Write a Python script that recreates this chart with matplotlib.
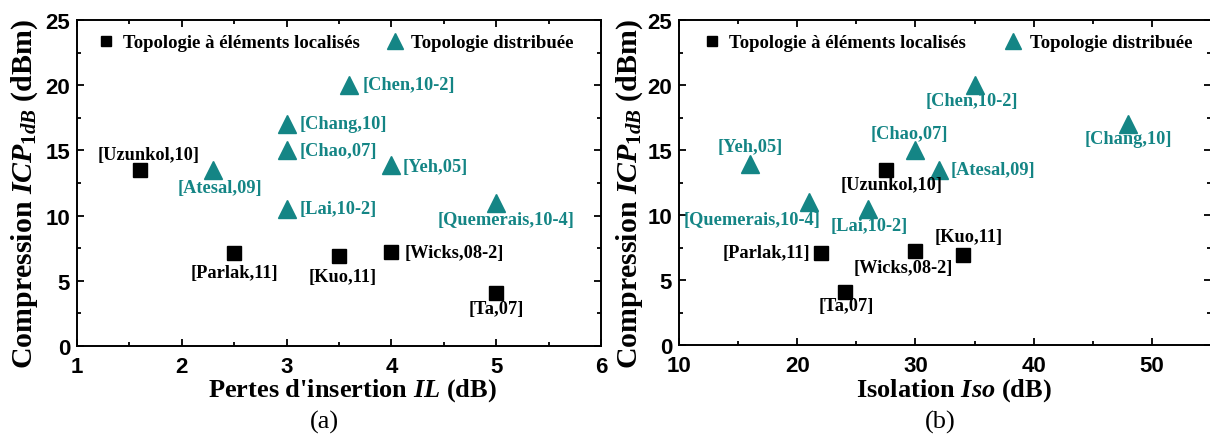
import matplotlib
matplotlib.use("Agg")
import matplotlib.pyplot as plt
from matplotlib.ticker import MultipleLocator
from matplotlib.lines import Line2D

# ---------------- data ----------------
lump_names = ["[Uzunkol,10]", "[Parlak,11]", "[Kuo,11]", "[Wicks,08-2]", "[Ta,07]"]
lump_il = [1.6, 2.5, 3.5, 4.0, 5.0]
lump_icp = [13.5, 7.1, 6.9, 7.2, 4.1]
lump_iso = [27.5, 22.0, 34.0, 30.0, 24.0]

dist_names = ["[Chen,10-2]", "[Chang,10]", "[Chao,07]", "[Yeh,05]", "[Atesal,09]",
              "[Lai,10-2]", "[Quemerais,10-4]"]
dist_il = [3.6, 3.0, 3.0, 4.0, 2.3, 3.0, 5.0]
dist_icp = [20.0, 17.0, 15.0, 13.9, 13.5, 10.5, 11.0]
dist_iso = [35.0, 48.0, 30.0, 16.0, 32.0, 26.0, 21.0]

legend_labels = ["Topologie à éléments localisés", "Topologie distribuée"]

# ---------------- label layout (offsets in px, ha) ----------------
lump_off_a = [(9, 15, "center"), (0, -19, "center"), (4, -20, "center"),
              (12.8, 0, "left"), (0, -16, "center")]
dist_off_a = [(12.8, 1, "left"), (12.8, 1, "left"), (12.8, 0, "left"),
              (10.9, -1.7, "left"), (6.6, -17.7, "center"), (12.8, 1, "left"),
              (9.7, -17, "center")]
lump_off_b = [(5.8, -15, "center"), (-10.8, 0, "right"), (6, 18.3, "center"),
              (-12, -15.7, "center"), (2, -14.3, "center")]
dist_off_b = [(-2.7, -15.7, "center"), (0, -15, "center"), (-6, 16, "center"),
              (0, 17.7, "center"), (11.5, 0, "left"), (1, -17, "center"),
              (-57, -17, "center")]

TEAL = "#148585"
SERIF = "Liberation Serif"
SANS = "Liberation Sans"

plt.rcParams["mathtext.fontset"] = "custom"
plt.rcParams["mathtext.rm"] = "Liberation Serif:bold"
plt.rcParams["mathtext.bf"] = "Liberation Serif:bold"
plt.rcParams["mathtext.it"] = "Liberation Serif:italic:bold"

W, H = 1210, 439
fig = plt.figure(figsize=(W / 100, H / 100), dpi=100)

ax_a = fig.add_axes([77 / W, 1 - 347 / H, (601 - 77) / W, (347 - 21) / H])
ax_b = fig.add_axes([679 / W, 1 - 346 / H, (1211 - 679) / W, (346 - 21) / H])

PX2PT = 0.72
LBL_FS = 13.2


def style_axes(ax, xlim, xmaj, xmin):
    ax.set_xlim(*xlim)
    ax.set_ylim(0, 25)
    ax.xaxis.set_major_locator(MultipleLocator(xmaj))
    ax.xaxis.set_minor_locator(MultipleLocator(xmin))
    ax.yaxis.set_major_locator(MultipleLocator(5))
    ax.yaxis.set_minor_locator(MultipleLocator(2.5))
    ax.tick_params(which="both", direction="in", top=True, right=True, width=1.3)
    ax.tick_params(which="major", length=5)
    ax.tick_params(which="minor", length=3)
    ax.tick_params(axis="x", which="major", pad=7)
    ax.tick_params(axis="y", which="major", pad=5)
    for s in ax.spines.values():
        s.set_linewidth(1.4)
    for lab in ax.get_xticklabels() + ax.get_yticklabels():
        lab.set_fontfamily(SANS)
        lab.set_fontweight("bold")
        lab.set_fontsize(16)


def draw(ax, lx, ly, dx, dy, loffs, doffs, leg_x, colsp):
    ax.plot(lx, ly, ls="none", marker="s", ms=9.5, color="black", clip_on=False)
    ax.plot(dx, dy, ls="none", marker="^", ms=12.5, color=TEAL, clip_on=False)
    for name, x, y, (ox, oy, ha) in zip(lump_names, lx, ly, loffs):
        ax.annotate(name, (x, y), xytext=(ox * PX2PT, oy * PX2PT),
                    textcoords="offset points", ha=ha, va="center",
                    fontfamily=SERIF, fontweight="bold", fontsize=LBL_FS,
                    color="black")
    for name, x, y, (ox, oy, ha) in zip(dist_names, dx, dy, doffs):
        ax.annotate(name, (x, y), xytext=(ox * PX2PT, oy * PX2PT),
                    textcoords="offset points", ha=ha, va="center",
                    fontfamily=SERIF, fontweight="bold", fontsize=LBL_FS,
                    color=TEAL)
    handles = [Line2D([], [], ls="none", marker="s", ms=7.2, color="black"),
               Line2D([], [], ls="none", marker="^", ms=11.5, color=TEAL)]
    ax.legend(handles, legend_labels, ncol=2, frameon=False, loc="upper left",
              bbox_to_anchor=(leg_x, 0.98), handlelength=0.8, handletextpad=0.5,
              columnspacing=colsp, borderpad=0.4, borderaxespad=0,
              prop={"family": SERIF, "weight": "bold", "size": 13.5})


draw(ax_a, lump_il, lump_icp, dist_il, dist_icp, lump_off_a, dist_off_a, 0.027, 1.45)
draw(ax_b, lump_iso, lump_icp, dist_iso, dist_icp, lump_off_b, dist_off_b, 0.034, 2.1)
style_axes(ax_a, (1, 6), 1, 0.5)
style_axes(ax_b, (10, 55), 10, 5)

ylab = r"Compression $ICP_{\mathit{1dB}}$ (dBm)"
for xc in (25, 630):
    fig.text(xc / W, 1 - 194 / H, ylab, rotation=90, ha="center", va="center",
             fontfamily=SERIF, fontweight="bold", fontsize=21.5)

fig.text(352 / W, 1 - 391 / H, r"Pertes d'insertion $IL$ (dB)", ha="center",
         va="center", fontfamily=SERIF, fontweight="bold", fontsize=19)
fig.text(954 / W, 1 - 391 / H, r"Isolation $Iso$ (dB)", ha="center",
         va="center", fontfamily=SERIF, fontweight="bold", fontsize=19)
fig.text(324 / W, 1 - 422 / H, "(a)", ha="center", va="center",
         fontfamily=SERIF, fontsize=19)
fig.text(940 / W, 1 - 422 / H, "(b)", ha="center", va="center",
         fontfamily=SERIF, fontsize=19)

fig.savefig("out.png", dpi=100)
